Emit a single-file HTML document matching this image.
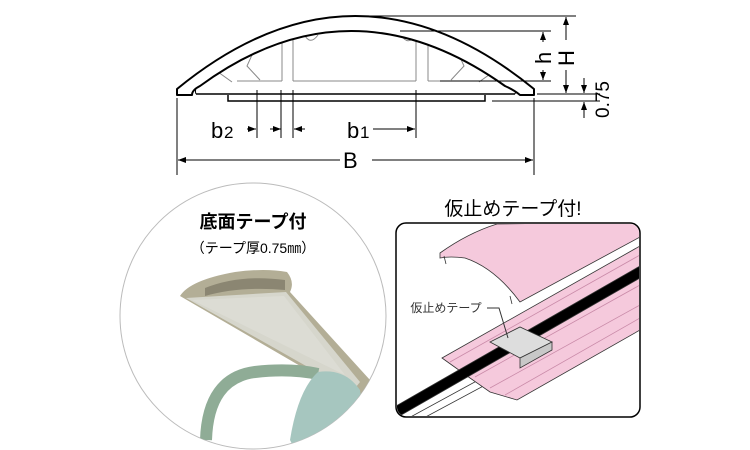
<!DOCTYPE html>
<html><head><meta charset="utf-8"><style>
html,body{margin:0;padding:0;background:#fff;}
svg{display:block;font-family:"Liberation Sans","Noto Sans CJK JP",sans-serif;}
</style></head><body>
<svg width="750" height="450" viewBox="0 0 750 450" xmlns="http://www.w3.org/2000/svg">
<defs>
<marker id="a" markerWidth="8" markerHeight="6" refX="8" refY="3" orient="auto" markerUnits="userSpaceOnUse"><path d="M0,0 L8,3 L0,6 Z" fill="#000"/></marker>
<clipPath id="c"><circle cx="253" cy="316" r="133"/></clipPath>
<clipPath id="r"><rect x="397" y="224" width="242" height="192" rx="9"/></clipPath>
</defs>
<!-- top profile -->
<path d="M228,95 L228,101 L485,101 L485,95" fill="#fff" stroke="#000" stroke-width="1.5"/>
<path d="M196,94 L515,94" stroke="#000" stroke-width="1.5"/>
<path d="M196,94 Q194,88 199,86 M515,94 Q517,88 512,86" fill="none" stroke="#000"/>
<g fill="none" stroke="#888" stroke-width="1">
<path d="M237,81 L282,81 M293,81 L416,81 M428,81 L475,81"/>
<path d="M282,42 L282,81 M293,39 L293,81 M416,39 L416,81 M428,42 L428,81"/>
<path d="M304,34 Q310,46 318,35 M401,35 Q408,46 415,36"/>
<path d="M235,62 L252,55 L247,66 L260,80 M476,62 L459,55 L464,66 L451,80"/>
<path d="M200,86 L218,72 L232,82 M511,86 L493,72 L479,82"/>
</g>
<path d="M177,95 L177,89 Q355,-57 534,89 L534,95 L520,95 Q514,90 505,86 Q350,-24 200,86 Q192,90 192,95 Z" fill="#fff" stroke="#000" stroke-width="2" stroke-linejoin="round"/>
<!-- dimension lines -->
<g stroke="#000" stroke-width="1" fill="none">
<line x1="177" y1="98" x2="177" y2="175"/>
<line x1="534" y1="98" x2="534" y2="175"/>
<line x1="257" y1="90" x2="257" y2="138"/>
<line x1="281" y1="90" x2="281" y2="138"/>
<line x1="293" y1="90" x2="293" y2="138"/>
<line x1="416" y1="90" x2="416" y2="138"/>
<line x1="340" y1="160" x2="178" y2="160" marker-end="url(#a)"/>
<line x1="372" y1="160" x2="533" y2="160" marker-end="url(#a)"/>
<line x1="247" y1="129" x2="256" y2="129" marker-end="url(#a)"/>
<line x1="270" y1="129" x2="281" y2="129" marker-end="url(#a)"/>
<line x1="305" y1="129" x2="294" y2="129" marker-end="url(#a)"/>
<line x1="373" y1="129" x2="415" y2="129" marker-end="url(#a)"/>
<line x1="350" y1="16" x2="576" y2="16"/>
<line x1="400" y1="31" x2="551" y2="31"/>
<line x1="440" y1="81" x2="551" y2="81"/>
<line x1="537" y1="94" x2="600" y2="94"/>
<line x1="492" y1="101" x2="600" y2="101"/>
<line x1="566" y1="40" x2="566" y2="17" marker-end="url(#a)"/>
<line x1="566" y1="70" x2="566" y2="93" marker-end="url(#a)"/>
<line x1="543" y1="42" x2="543" y2="32" marker-end="url(#a)"/>
<line x1="543" y1="70" x2="543" y2="80" marker-end="url(#a)"/>
<line x1="584" y1="78" x2="584" y2="93" marker-end="url(#a)"/>
<line x1="584" y1="118" x2="584" y2="102" marker-end="url(#a)"/>
</g>
<g font-size="22" fill="#000">
<text x="343" y="168">B</text>
<text x="211" y="138">b</text><text x="224" y="138" font-size="17">2</text>
<text x="347" y="138">b</text><text x="360" y="138" font-size="17">1</text>
<text transform="translate(551,64) rotate(-90)">h</text>
<text transform="translate(574,66) rotate(-90)">H</text>
<text transform="translate(609,118) rotate(-90)" font-size="19">0.75</text>
</g>
<!-- circle photo -->
<circle cx="253" cy="316" r="133" fill="#fff" stroke="#bbb"/>
<g clip-path="url(#c)">
<path d="M180,296 Q190,280 235,272 Q265,268 287,272 Q295,282 290,292 L370,380 L368,395 L362,402 Z" fill="#b3ae96"/>
<path d="M186,298 L286,292 L360,382 L352,392 Z" fill="#d6d6cc"/>
<path d="M192,300 L284,296 L345,375 Z" fill="#dcdcd4"/>
<path d="M205,288 Q240,274 285,280 L285,290 Q240,286 205,296 Z" fill="#8b8672"/>
<path d="M206,440 Q208,378 255,372 Q290,368 318,374" fill="none" stroke="#8fac96" stroke-width="12"/>
<path d="M290,440 Q298,390 318,372 Q345,368 360,390 L368,450 L295,450 Z" fill="#a6c6bf"/>
</g>
<text x="253" y="228" text-anchor="middle" font-size="18" font-weight="bold">底面テープ付</text>
<text x="253" y="253" text-anchor="middle" font-size="14">（テープ厚0.75㎜）</text>
<!-- right panel -->
<text x="513" y="215" text-anchor="middle" font-size="19">仮止めテープ付!</text>
<rect x="396" y="223" width="244" height="194" rx="10" fill="#fff" stroke="#000" stroke-width="1.5"/>
<g clip-path="url(#r)" stroke="#333" stroke-width="0.8">
<path d="M405,420 L640,292 L640,302 L420,420 Z" fill="#fff"/>
<path d="M442,358 L640,246 L640,330 L517,400 L490,392 L470,378 Z" fill="#f5c9dc"/>
<path d="M450,362 L640,255 M475,377 L640,285 M490,388 L640,305 M505,395 L640,318" fill="none" stroke="#c98aa8"/>
<path d="M396,406 L640,266 L640,278 L396,418 Z" fill="#000"/>
<path d="M440,253 Q468,233 497,224 L640,222 L640,237 L520,302 Q495,268 465,258 Q450,256 440,258 Z" fill="#f5c9dc"/>
<path d="M444,256 L446,264 M510,296 L512,304" stroke="#333"/>
<path d="M490,342 L520,327 L552,342 L520,358 Z" fill="#ddd"/>
<path d="M520,358 L552,342 L552,350 L520,368 Z" fill="#c8c8c8"/>
</g>
<text x="446" y="312" text-anchor="middle" font-size="12" fill="#333">仮止めテープ</text>
<path d="M487,308 L499,308 L508,338" fill="none" stroke="#333"/>
</svg>
</body></html>
